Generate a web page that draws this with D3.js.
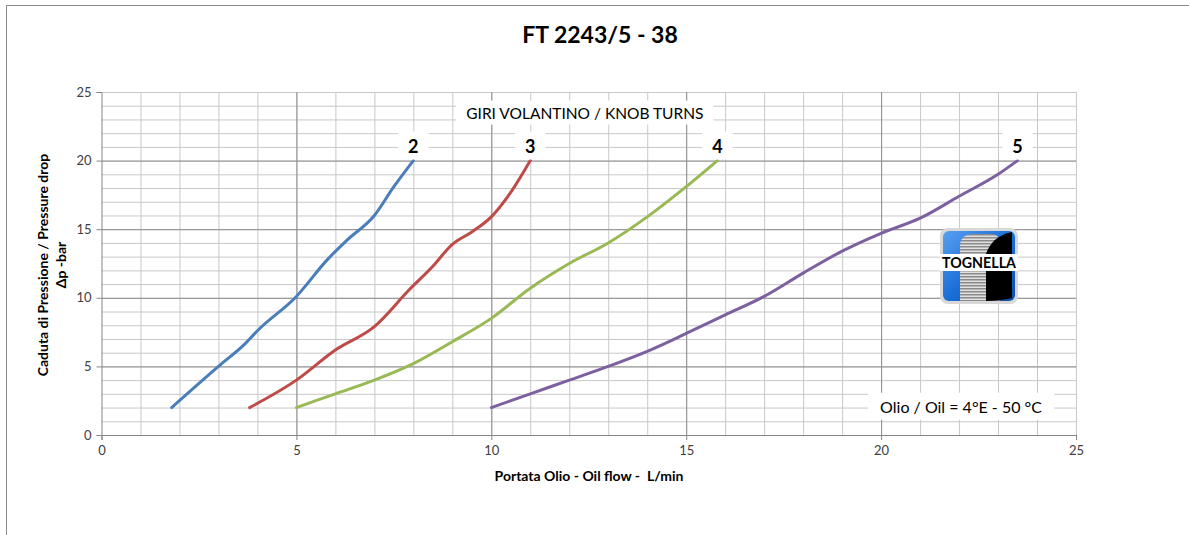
<!DOCTYPE html>
<html lang="en">
<head>
<meta charset="UTF-8">
<title>FT 2243/5 - 38</title>
<script src="https://cdn.jsdelivr.net/npm/d3@7"></script>
<style>
  body { margin: 0; background: #fff; }
  svg { font-family: Lato, "Open Sans", sans-serif; }
  .tick text { fill: #404040; font-size: 13px; }
</style>
</head>
<body>
<script>
// knob turns (one curve per turn setting)
let turns = ['2', '3', '4', '5'];
let colors = ['#4a7ebb', '#be4b48', '#98b954', '#7d60a0'];

// flow (L/min) and pressure drop (bar)
let flow2 = [1.8, 3, 3.7, 4, 5, 5.8, 6.3, 7, 7.5, 8];
let drop2 = [2, 5, 6.7, 7.6, 10.1, 12.8, 14.2, 16, 18.1, 20];
let flow3 = [3.8, 5, 6, 7, 7.9, 8.5, 9, 9.5, 10, 10.55, 11];
let drop3 = [2, 4, 6.2, 7.9, 10.6, 12.3, 13.9, 14.8, 15.9, 17.9, 20];
let flow4 = [5, 6, 7, 8, 9, 10, 11, 12, 13, 14, 15, 15.8];
let drop4 = [2, 3, 4, 5.2, 6.8, 8.5, 10.7, 12.5, 14, 15.9, 18.1, 20];
let flow5 = [10, 11, 12, 13, 14, 15, 16, 17, 18, 19, 20, 21, 22, 23, 23.5];
let drop5 = [2, 3, 4, 5, 6.1, 7.4, 8.75, 10.1, 11.8, 13.4, 14.7, 15.8, 17.4, 19, 20];

let xTicks = [0, 5, 10, 15, 20, 25];
let yTicks = [0, 5, 10, 15, 20, 25];

let series = [
  { name: turns[0], flow: flow2, drop: drop2 },
  { name: turns[1], flow: flow3, drop: drop3 },
  { name: turns[2], flow: flow4, drop: drop4 },
  { name: turns[3], flow: flow5, drop: drop5 }
];

let width = 1189;
let height = 535;

let x = d3.scaleLinear().domain([0, 25]).range([101.5, 1076]);
let y = d3.scaleLinear().domain([0, 25]).range([435, 92]);

let svg = d3.select('body').append('svg')
  .attr('width', width)
  .attr('height', height);

// outer chart frame (cropped on right and bottom)
svg.append('rect')
  .attr('x', 6.5).attr('y', 5.5)
  .attr('width', 1300).attr('height', 700)
  .attr('fill', '#fff')
  .attr('stroke', '#8c8c8c');

// minor grid
svg.append('g')
  .attr('transform', 'translate(0,' + y(0) + ')')
  .call(d3.axisBottom(x).tickValues(d3.range(1, 26)).tickSize(-(y(0) - y(25))).tickFormat(''))
  .call(g => g.select('.domain').remove())
  .call(g => g.selectAll('line').attr('stroke', '#c8c8c8'));

svg.append('g')
  .attr('transform', 'translate(' + x(0) + ',0)')
  .call(d3.axisLeft(y).tickValues(d3.range(1, 26)).tickSize(-(x(25) - x(0))).tickFormat(''))
  .call(g => g.select('.domain').remove())
  .call(g => g.selectAll('line').attr('stroke', '#c8c8c8'));

// major grid
svg.append('g')
  .attr('transform', 'translate(0,' + y(0) + ')')
  .call(d3.axisBottom(x).tickValues([5, 10, 15, 20]).tickSize(-(y(0) - y(25))).tickFormat(''))
  .call(g => g.select('.domain').remove())
  .call(g => g.selectAll('line').attr('stroke', '#8e8e8e'));

svg.append('g')
  .attr('transform', 'translate(' + x(0) + ',0)')
  .call(d3.axisLeft(y).tickValues([5, 10, 15, 20]).tickSize(-(x(25) - x(0))).tickFormat(''))
  .call(g => g.select('.domain').remove())
  .call(g => g.selectAll('line').attr('stroke', '#8e8e8e'));

// axes
svg.append('g')
  .attr('transform', 'translate(0,' + y(0) + ')')
  .call(d3.axisBottom(x).tickValues(xTicks).tickSize(5).tickPadding(6))
  .call(g => g.select('.domain').attr('stroke', '#868686'))
  .call(g => g.selectAll('line').attr('stroke', '#868686'))
  .call(g => g.selectAll('text').style('font-family', 'Lato, sans-serif'));

svg.append('g')
  .attr('transform', 'translate(' + x(0) + ',0)')
  .call(d3.axisLeft(y).tickValues(yTicks).tickSize(5).tickPadding(5))
  .call(g => g.select('.domain').attr('stroke', '#868686'))
  .call(g => g.selectAll('line').attr('stroke', '#868686'))
  .call(g => g.selectAll('text').style('font-family', 'Lato, sans-serif'));

// curves
let line = d3.line()
  .x(function (d) { return x(d[0]); })
  .y(function (d) { return y(d[1]); })
  .curve(d3.curveMonotoneX);

svg.selectAll('path.curve')
  .data(series)
  .enter()
  .append('path')
  .attr('class', 'curve')
  .attr('fill', 'none')
  .attr('stroke', function (d, i) { return colors[i]; })
  .attr('stroke-width', 3)
  .attr('stroke-linecap', 'round')
  .attr('d', function (d) {
    return line(d.flow.map(function (f, i) { return [f, d.drop[i]]; }));
  });

// text with white box behind it
function boxedText(cx, cy, text, size, weight, padX, padY) {
  let g = svg.append('g');
  let rect = g.append('rect').attr('fill', '#fff');
  let t = g.append('text')
    .attr('x', cx).attr('y', cy)
    .attr('text-anchor', 'middle')
    .attr('dominant-baseline', 'central')
    .attr('font-size', size)
    .attr('font-weight', weight)
    .attr('fill', '#000')
    .text(text);
  let b = t.node().getBBox();
  rect.attr('x', b.x - padX).attr('y', b.y - padY)
    .attr('width', b.width + 2 * padX).attr('height', b.height + 2 * padY);
}

series.forEach(function (s) {
  let last = s.flow.length - 1;
  boxedText(x(s.flow[last]), y(21.1), s.name, 18, 'bold', 10, 3);
});

boxedText(x(12.4), y(23.5), 'GIRI VOLANTINO / KNOB TURNS', 15.5, 'normal', 10, 3);
boxedText(x(22.05), y(2.1), 'Olio / Oil = 4°E - 50 °C', 16, 'normal', 12, 4);

// title
svg.append('text')
  .attr('x', 600).attr('y', 43)
  .attr('text-anchor', 'middle')
  .attr('font-size', 23)
  .attr('font-weight', 'bold')
  .text('FT 2243/5 - 38');

// axis titles
svg.append('text')
  .attr('x', 589).attr('y', 481)
  .attr('text-anchor', 'middle')
  .attr('font-size', 14)
  .attr('font-weight', 'bold')
  .style('white-space', 'pre')
  .text('Portata Olio - Oil flow -  L/min');

let yl = svg.append('text')
  .attr('transform', 'translate(48,265) rotate(-90)')
  .attr('text-anchor', 'middle')
  .attr('font-size', 14)
  .attr('font-weight', 'bold');
yl.append('tspan').attr('x', 0).attr('y', 0).text('Caduta di Pressione / Pressure drop');
yl.append('tspan').attr('x', 0).attr('y', 18).text('Δp -bar');

// logo
let logo = svg.append('g').attr('transform', 'translate(940,228)');
let defs = svg.append('defs');
let grad = defs.append('linearGradient').attr('id', 'blueGrad')
  .attr('x1', 0).attr('y1', 0).attr('x2', 1).attr('y2', 1);
grad.append('stop').attr('offset', 0).attr('stop-color', '#5aa0f0');
grad.append('stop').attr('offset', 0.5).attr('stop-color', '#1a6fd8');
grad.append('stop').attr('offset', 1).attr('stop-color', '#0d4fa8');
let stripes = defs.append('pattern').attr('id', 'stripes')
  .attr('width', 4).attr('height', 3).attr('patternUnits', 'userSpaceOnUse');
stripes.append('rect').attr('width', 4).attr('height', 3).attr('fill', '#e0e0e0');
stripes.append('rect').attr('width', 4).attr('height', 1.5).attr('fill', '#8a8a8a');

logo.append('rect').attr('x', 0).attr('y', 0).attr('width', 78).attr('height', 76)
  .attr('rx', 8).attr('fill', '#d8d8d8');
logo.append('rect').attr('x', 3).attr('y', 3).attr('width', 72).attr('height', 70)
  .attr('rx', 6).attr('fill', 'url(#blueGrad)');
logo.append('path')
  .attr('d', 'M20,73 L20,18 Q20,6 34,6 L52,6 Q60,6 60,18 L60,73 Z')
  .attr('fill', 'url(#stripes)');
logo.append('path')
  .attr('d', 'M46,73 L46,26 Q52,8 72,4 L72,70 Q60,73 46,73 Z')
  .attr('fill', '#000');
logo.append('rect').attr('x', 0).attr('y', 26).attr('width', 78).attr('height', 17).attr('fill', '#fff');
logo.append('text')
  .attr('x', 39).attr('y', 40)
  .attr('text-anchor', 'middle')
  .attr('font-size', 15)
  .attr('font-weight', 'bold')
  .attr('textLength', 74)
  .attr('lengthAdjust', 'spacingAndGlyphs')
  .attr('fill', '#000')
  .text('TOGNELLA');
</script>
</body>
</html>
